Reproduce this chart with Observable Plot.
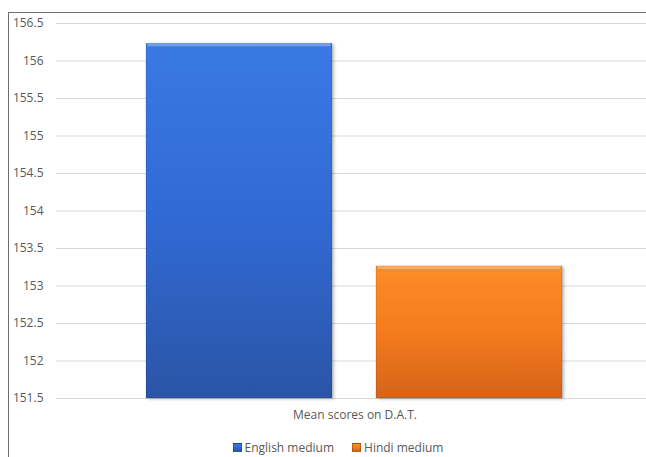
<!DOCTYPE html>
<html>
<head>
<meta charset="utf-8">
<script src="https://cdn.jsdelivr.net/npm/d3@7"></script>
<script src="https://cdn.jsdelivr.net/npm/@observablehq/plot@0.6"></script>
<style>
  html, body { margin: 0; padding: 0; background: #fff; width: 646px; height: 457px; overflow: hidden; }
  body { position: relative; font-family: "Open Sans", sans-serif; }
  #chart { position: absolute; left: 0; top: 0; width: 646px; height: 430px; overflow: hidden; }
  #chart svg { max-width: none !important; }
  #frame { position: absolute; left: 8px; top: 12px; right: 0; bottom: 0;
           border-left: 1px solid #6e6e6e; border-top: 1px solid #6e6e6e; pointer-events: none; }
  #legend { position: absolute; left: 0; top: 439px; width: 646px; box-sizing: border-box; padding-left: 30px;
            text-align: center; font-size: 12px; color: #595959; white-space: nowrap; }
  #legend .item { display: inline-flex; align-items: center; margin: 0 9px; }
  #legend .sw { width: 7px; height: 7px; margin-right: 3px; display: inline-block; }
  #chart svg g.bars rect { filter: drop-shadow(2px 1px 1.5px rgba(0,0,0,0.25)); }
</style>
</head>
<body>
<div id="chart"></div>
<div id="frame"></div>
<div id="legend"></div>
<script>
// Mean D.A.T. scores by medium of instruction
const category = "Mean scores on D.A.T.";
const series = ["English medium", "Hindi medium"];
const values = [156.23, 153.26];
const yTicks = [151.5, 152, 152.5, 153, 153.5, 154, 154.5, 155, 155.5, 156, 156.5];

// gradient stops (top → bottom) for each series
const gradients = [
  {id: "gradEnglish", stops: ["#3a79e4", "#3169d4", "#2a55a6"]},
  {id: "gradHindi", stops: ["#fd8c27", "#f57b1c", "#d5641a"]}
];

const data = series.map((s, i) => ({category, series: s, value: values[i]}));
const yMin = yTicks[0];

// the plotting area runs a few pixels past the right edge of the page
const width = 646, plotLeft = 56, plotRight = 653;

const plot = Plot.plot({
  width,
  height: 430,
  marginLeft: plotLeft,
  marginRight: 0,
  marginTop: 23,
  marginBottom: 32,
  style: {fontFamily: "'Open Sans', sans-serif", fontSize: "12px", color: "#595959", background: "transparent"},
  x: {domain: series, range: [plotLeft, plotRight], paddingInner: 0.191, paddingOuter: 0.393, axis: null},
  y: {domain: [yMin, yTicks[yTicks.length - 1]], ticks: yTicks, tickFormat: d => String(d), tickSize: 0, tickPadding: 13, label: null},
  color: {type: "ordinal", domain: series, range: gradients.map(g => `url(#${g.id})`)},
  marks: [
    Plot.ruleY(yTicks, {stroke: "#d9d9d9", strokeWidth: 1}),
    Plot.barY(data, {x: "series", y1: yMin, y2: "value", fill: "series",
                     stroke: "rgba(0,0,0,0.18)", strokeWidth: 0.8}),
    // bevel highlight along the top edge of each bar
    Plot.barY(data, {x: "series", y1: "value", y2: "value",
                     insetBottom: -3, insetLeft: 1.5, insetRight: 1.5, fill: "rgba(255,255,255,0.28)"}),
    // category label centred under the bars (centre of the full plotting area)
    Plot.text([category], {frameAnchor: "bottom", lineAnchor: "middle", dx: (plotRight - width) / 2, dy: 17,
                           fill: "#595959", fontSize: 12})
  ]
});

const defs = d3.select(plot).insert("defs", ":first-child");
for (const g of gradients) {
  const lg = defs.append("linearGradient").attr("id", g.id)
    .attr("x1", 0).attr("y1", 0).attr("x2", 0).attr("y2", 1);
  g.stops.forEach((c, i) => lg.append("stop")
    .attr("offset", i / (g.stops.length - 1)).attr("stop-color", c));
}
d3.select(plot).selectAll('g[aria-label="bar"]').filter((d, i) => i === 0).classed("bars", true);

document.getElementById("chart").append(plot);

// legend
const legend = d3.select("#legend");
series.forEach((s, i) => {
  const item = legend.append("span").attr("class", "item");
  item.append("span").attr("class", "sw")
    .style("background", `linear-gradient(${gradients[i].stops.join(",")})`)
    .style("border", "0.5px solid rgba(0,0,0,0.25)");
  item.append("span").text(s);
});
</script>
</body>
</html>
